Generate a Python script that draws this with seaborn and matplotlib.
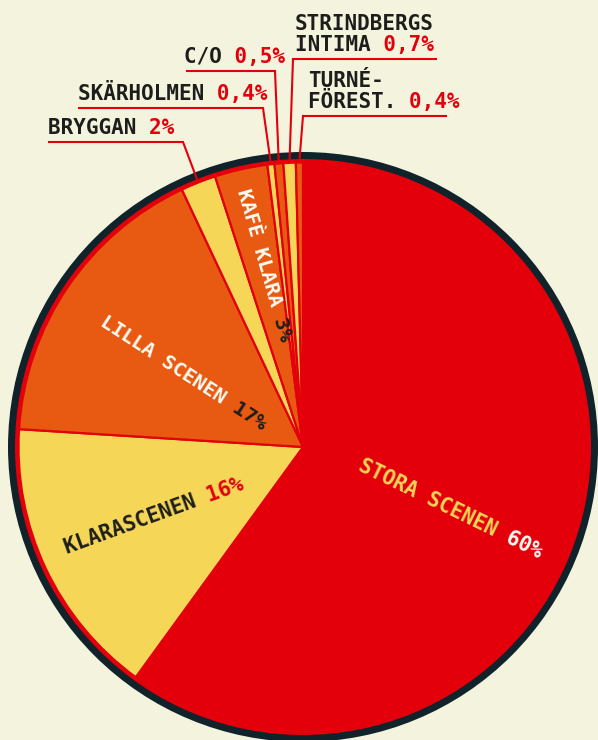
import numpy as np
import matplotlib
matplotlib.use("Agg")
import matplotlib.pyplot as plt
import seaborn as sns
from matplotlib.patches import Circle

# ---------------- data ----------------
venues = ["STORA SCENEN", "KLARASCENEN", "LILLA SCENEN", "BRYGGAN", "KAFÈ KLARA",
          "SKÄRHOLMEN", "C/O", "STRINDBERGS INTIMA", "TURNÉ-FÖREST."]
shares = [60, 16, 17, 2, 3, 0.4, 0.5, 0.7, 0.4]
pct_labels = ["60%", "16%", "17%", "2%", "3%", "0,4%", "0,5%", "0,7%", "0,4%"]

RED = "#e3000b"
ORANGE = "#e85a12"
YELLOW = "#f5d657"
DARK = "#10232a"
TEXT = "#1d1d1b"
WHITE = "#fffdf5"
BG = "#f4f3de"
slice_colors = sns.color_palette([RED, YELLOW, ORANGE, YELLOW, ORANGE,
                                  YELLOW, ORANGE, YELLOW, ORANGE])

# ---------------- layout ----------------
W, H = 598, 740
CX, CY = 303, 447          # pie centre (pixels, y downwards)
R_OUT, R_RED, R_PIE = 295, 288, 284.5

sns.set_style("white", rc={"axes.facecolor": BG, "figure.facecolor": BG})
plt.rcParams["font.family"] = ["DejaVu Sans Mono", "DejaVu Sans"]

fig = plt.figure(figsize=(W / 100, H / 100), dpi=100)
ax = fig.add_axes([0, 0, 1, 1])
ax.set_facecolor(BG)


def Y(yp):
    return H - yp


ax.add_patch(Circle((CX, Y(CY)), R_OUT, facecolor=DARK, edgecolor="none", zorder=1))
ax.add_patch(Circle((CX, Y(CY)), R_RED, facecolor=RED, edgecolor="none", zorder=2))
wedges, _ = ax.pie(shares, colors=slice_colors, startangle=90, counterclock=False,
                   center=(CX, Y(CY)), radius=R_PIE,
                   wedgeprops=dict(edgecolor=RED, linewidth=1.6, zorder=3))
for w in wedges:
    w.set_zorder(3)

# mid angles (clockwise from 12 o'clock)
cum = np.cumsum(shares)
total = cum[-1]
mid_deg = 360 * (cum - np.array(shares) / 2) / total


def edge_point(i, r):
    t = np.deg2rad(mid_deg[i])
    return CX + r * np.sin(t), CY - r * np.cos(t)


FS = 15
FONT = dict(fontweight="bold", family=["DejaVu Sans Mono", "DejaVu Sans"])


def two_color(x, y, name, pct, c1, c2, rot=0, size=FS):
    """monospace: pad strings so both parts line up"""
    s1 = name + " " + " " * len(pct)
    s2 = " " * (len(name) + 1) + pct
    for s, c in ((s1, c1), (s2, c2)):
        ax.text(x, Y(y), s, color=c, fontsize=size, rotation=rot,
                rotation_mode="anchor", ha="left", va="baseline", zorder=6, **FONT)


# ---------------- inside labels ----------------
two_color(357, 470, "STORA SCENEN", pct_labels[0], YELLOW, WHITE, rot=-26)
two_color(67, 554, "KLARASCENEN", pct_labels[1], TEXT, RED, rot=20)
two_color(99, 325, "LILLA SCENEN", pct_labels[2], WHITE, TEXT, rot=-33, size=14.5)
two_color(237, 191, "KAFÈ KLARA", pct_labels[4], WHITE, TEXT, rot=-74, size=14.5)

# ---------------- outer labels with leader lines ----------------
outer = [
    # idx, text lines (last line gets pct), x, baselines, underline y, x0, x1, join side
    (3, ["BRYGGAN"], 48, [134], 142, 48, 183, "right"),
    (5, ["SKÄRHOLMEN"], 78, [100], 108, 78, 263, "right"),
    (6, ["C/O"], 184, [63], 71, 186, 275, "right"),
    (7, ["STRINDBERGS", "INTIMA"], 295, [30, 51], 59, 293, 437, "left"),
    (8, ["TURNÉ-", "FÖREST."], 308, [87, 108], 116, 303, 447, "left"),
]
for idx, lines, x, bls, uy, x0, x1, side in outer:
    for k, (ln, bl) in enumerate(zip(lines, bls)):
        if k == len(lines) - 1:
            two_color(x, bl, ln, pct_labels[idx], TEXT, RED)
        else:
            ax.text(x, Y(bl), ln, color=TEXT, fontsize=FS, ha="left",
                    va="baseline", zorder=6, **FONT)
    px, py = edge_point(idx, 286)
    if side == "right":
        xs = [x0, x1, px]
    else:
        xs = [x1, x0, px]
    ys = [uy, uy, py]
    ax.plot(xs, [Y(v) for v in ys], color=RED, lw=1.5, zorder=5,
            solid_capstyle="butt", solid_joinstyle="miter")

ax.set_xlim(0, W)
ax.set_ylim(0, H)
ax.set_aspect("equal")
ax.axis("off")
fig.savefig("out.png", dpi=100, facecolor=BG)
